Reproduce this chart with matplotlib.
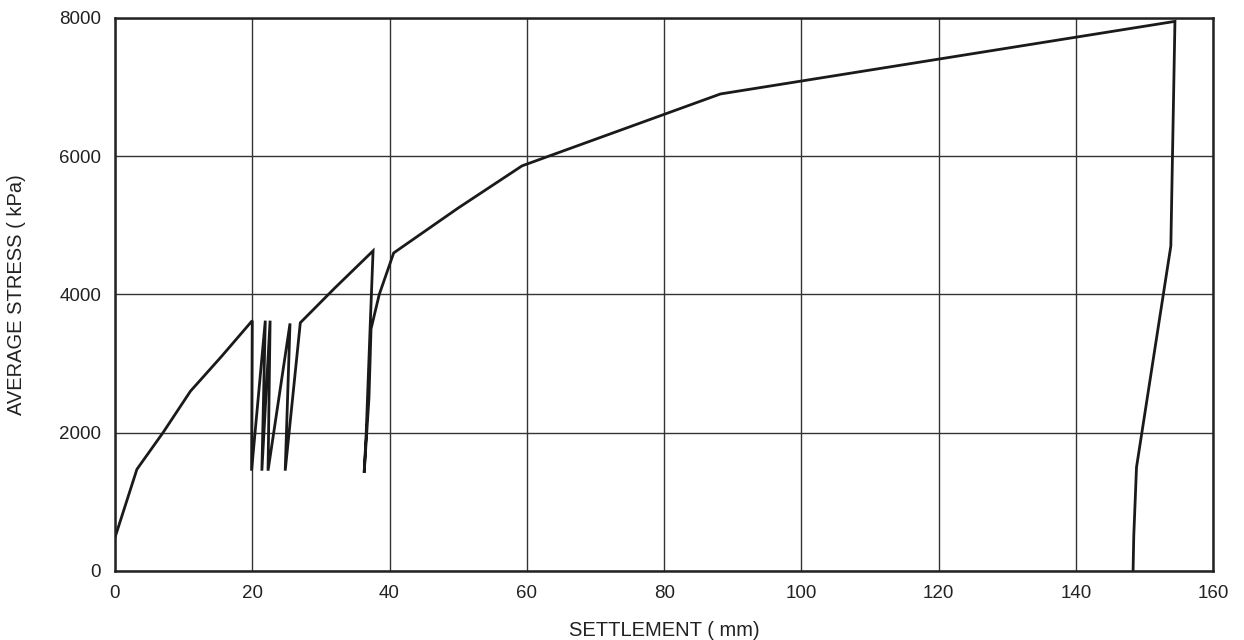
import matplotlib.pyplot as plt

plt.rcParams['font.family'] = ['Liberation Sans', 'DejaVu Sans']

# settlement (mm) and average stress (kPa)
settlement = [0.0, 3.2, 7.0, 11.0, 15.5, 20.0,
              19.9, 21.9, 21.4, 22.6, 22.3, 25.5, 24.8, 27.0,
              32.0, 37.6, 37.2, 36.6, 36.3, 37.0, 37.3, 38.5, 40.6,
              50.0, 59.3, 88.2, 154.4, 153.8, 148.8, 148.4, 148.3]
stress = [480, 1470, 2000, 2600, 3100, 3620,
          1450, 3620, 1450, 3620, 1450, 3580, 1450, 3590,
          4090, 4630, 3600, 2000, 1420, 2500, 3500, 4000, 4600,
          5250, 5860, 6900, 7950, 4700, 1500, 500, 0]

x_ticks = [0, 20, 40, 60, 80, 100, 120, 140, 160]
y_ticks = [0, 2000, 4000, 6000, 8000]

fig = plt.figure(figsize=(12.44, 6.4), dpi=100)
ax = fig.add_axes([0.0924, 0.108, 0.8830, 0.864])

ax.plot(settlement, stress, color='#1a1a1a', linewidth=2.0, solid_joinstyle='miter')

ax.set_xlim(0, 160)
ax.set_ylim(0, 8000)
ax.set_xticks(x_ticks)
ax.set_yticks(y_ticks)
ax.grid(True, color='#333333', linewidth=1.0)
ax.tick_params(length=0, labelsize=13.5, pad=10, colors='#222222')
for s in ax.spines.values():
    s.set_linewidth(1.8)
    s.set_color('#222222')

ax.set_xlabel('SETTLEMENT ( mm)', fontsize=14.5, labelpad=14, color='#222222')
ax.set_ylabel('AVERAGE STRESS ( kPa)', fontsize=14.5, labelpad=24, color='#222222')

plt.savefig('out.png', dpi=100)
